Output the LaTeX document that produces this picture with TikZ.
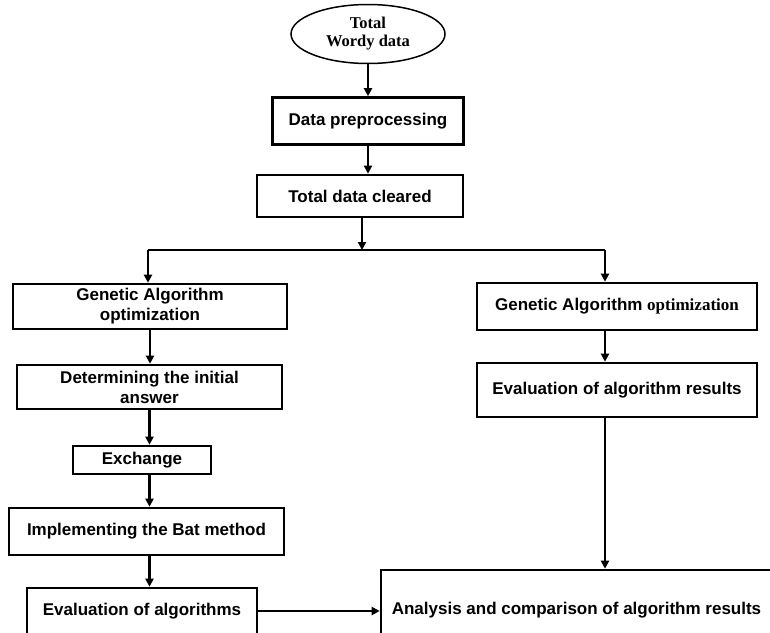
\documentclass[tikz,border=0pt]{standalone}
\usepackage{fontspec}
\setmainfont{Liberation Sans}
\newfontfamily\serifbf{Liberation Serif}
\usetikzlibrary{arrows.meta,shapes.geometric}
\begin{document}
\begin{tikzpicture}[x=1pt,y=-1pt]
  \tikzstyle{flowbox}=[rectangle, draw, line width=2.6pt, align=center, inner sep=0pt, font=\fontsize{17}{20}\selectfont\bfseries]
  \tikzstyle{dataoval}=[ellipse, draw, line width=1.5pt, align=center, inner sep=0pt, minimum width=154pt, minimum height=59pt, font=\fontsize{16.5}{18}\selectfont\serifbf\bfseries]
  \tikzstyle{flowarrow}=[line width=2.4pt, -{Triangle[length=8pt,width=8pt]}]
  \useasboundingbox (0,0) rectangle (770,632);
  % Node definitions
  \node[dataoval] (total) at (368,34) {Total\\Wordy data};
  \node[flowbox, minimum width=191, minimum height=47] (prep) at (368,121) {Data preprocessing};
  \node[flowbox, minimum width=206, minimum height=42] (cleared) at (360,196) {Total data cleared};
  \coordinate (split) at (362,250);
  \coordinate (splitL) at (148,250);
  \coordinate (splitR) at (605,250);
  \node[flowbox, minimum width=274, minimum height=45] (gaL) at (150,306.5) {Genetic Algorithm\\optimization};
  \node[flowbox, minimum width=265, minimum height=44] (init) at (149.5,387) {Determining the initial\\answer};
  \node[flowbox, minimum width=138, minimum height=28] (exch) at (142,460) {Exchange};
  \node[flowbox, minimum width=275, minimum height=47] (bat) at (146.5,531.5) {Implementing the Bat method};
  \node[flowbox, minimum width=230, minimum height=46] (evalL) at (142,611) {Evaluation of algorithms};
  \node[flowbox, minimum width=280, minimum height=47] (gaR) at (617,306.5) {Genetic Algorithm {\serifbf optimization}};
  \node[flowbox, minimum width=280, minimum height=54] (evalR) at (617,390) {Evaluation of algorithm results};
  \node[flowbox, minimum width=391, minimum height=80] (result) at (576.5,610) {Analysis and comparison of algorithm results};

  % Edge definitions
  \draw[flowarrow] (total.south) -- (prep.north);
  \draw[flowarrow] (prep.south) -- (prep.south |- cleared.north);
  \draw[flowarrow] (cleared.south -| split) -- (split);
  \draw[line width=2.4pt] (splitL) -- (splitR);
  \draw[flowarrow] (splitL) -- (splitL |- gaL.north);
  \draw[flowarrow] (splitR) -- (splitR |- gaR.north);
  \draw[flowarrow] (gaL.south) -- (gaL.south |- init.north);
  \draw[flowarrow] (init.south) -- (init.south |- exch.north);
  \draw[flowarrow] (init.south |- exch.south) -- (init.south |- bat.north);
  \draw[flowarrow] (init.south |- bat.south) -- (init.south |- evalL.north);
  \draw[flowarrow] (evalL.east) -- (evalL.east -| result.west);
  \draw[flowarrow] (splitR |- gaR.south) -- (splitR |- evalR.north);
  \draw[flowarrow] (splitR |- evalR.south) -- (splitR |- result.north);
\end{tikzpicture}
\end{document}
